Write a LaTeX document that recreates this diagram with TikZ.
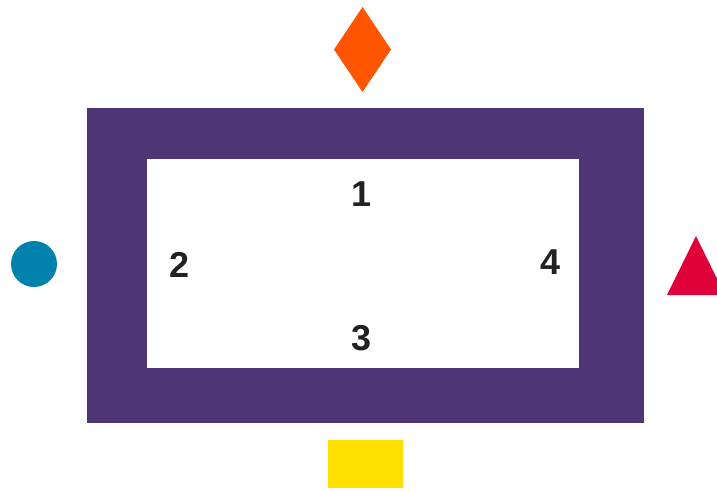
\documentclass[tikz,border=0pt]{standalone}
\usepackage{fontspec}
\setmainfont{Liberation Sans}
\usetikzlibrary{shapes.geometric}
\definecolor{framepurple}{HTML}{4E3576}
\definecolor{diamondorange}{HTML}{FF5500}
\definecolor{circleblue}{HTML}{0082AD}
\definecolor{trianglered}{HTML}{E0003A}
\definecolor{rectyellow}{HTML}{FFE000}
\definecolor{labelgray}{HTML}{222222}
\tikzstyle{marker} = [
    draw=none,
    inner sep=0pt,
    outer sep=0pt
]
\tikzstyle{numlabel} = [
    font=\fontsize{36}{36}\selectfont\bfseries,
    text=labelgray,
    inner sep=0pt
]

\begin{document}
\begin{tikzpicture}[x=1pt, y=-1pt]

\useasboundingbox (0,0) rectangle (717,490);
\clip (0,0) rectangle (717,490);

% frame
\node (outer) [marker, rectangle, fill=framepurple,
    minimum width=557pt, minimum height=315pt] at (365.5,265.5) {};
\node (inner) [marker, rectangle, fill=white,
    minimum width=432pt, minimum height=209pt] at (363,263.5) {};

% labels
\node (one) [numlabel] at (362,194) {1};
\node (two) [numlabel] at (180,265) {2};
\node (three) [numlabel] at (362,338) {3};
\node (four) [numlabel] at (551,262) {4};

% markers
\node (top) [marker, diamond, fill=diamondorange,
    minimum width=57pt, minimum height=85pt] at (362.5,49.5) {};
\node (left) [marker, circle, fill=circleblue,
    minimum size=46pt] at (34,264) {};
\node (bottom) [marker, rectangle, fill=rectyellow,
    minimum width=75pt, minimum height=48pt] at (365.5,464) {};
\fill [trianglered] (696,236) -- (725,295) -- (667,295) -- cycle;

\end{tikzpicture}
\end{document}
